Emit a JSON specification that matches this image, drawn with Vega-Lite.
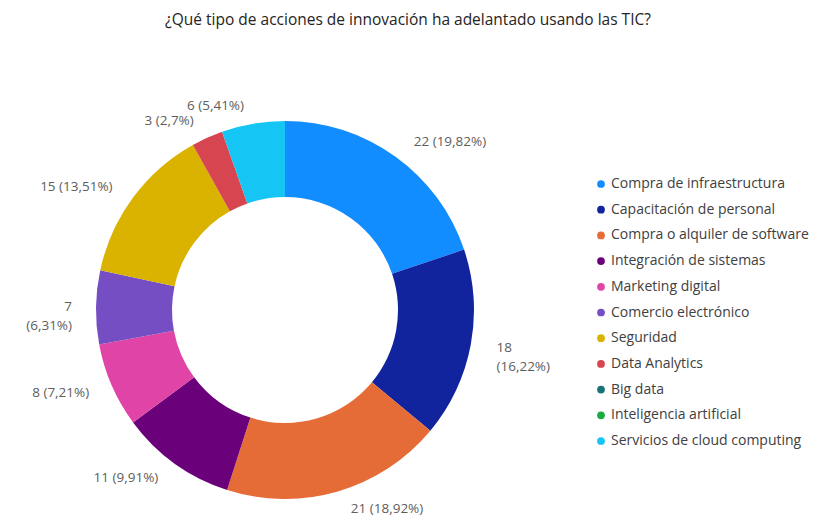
{
  "$schema": "https://vega.github.io/schema/vega-lite/v6.json",
  "autosize": "none",
  "width": 570,
  "height": 420,
  "padding": {"left": 0, "top": 100, "right": 247, "bottom": 1},
  "background": "white",
  "title": {
    "text": "¿Qué tipo de acciones de innovación ha adelantado usando las TIC?",
    "font": "Open Sans",
    "fontSize": 15.5,
    "fontWeight": "normal",
    "color": "#252423",
    "anchor": "middle",
    "dx": 123,
    "offset": 70
  },
  "config": {"view": {"stroke": null}},
  "data": {
    "values": [
      {"orden": 1, "categoria": "Compra de infraestructura", "valor": 22, "etiqueta": "22 (19,82%)"},
      {"orden": 2, "categoria": "Capacitación de personal", "valor": 18, "etiqueta": "18\n(16,22%)"},
      {"orden": 3, "categoria": "Compra o alquiler de software", "valor": 21, "etiqueta": "21 (18,92%)"},
      {"orden": 4, "categoria": "Integración de sistemas", "valor": 11, "etiqueta": "11 (9,91%)"},
      {"orden": 5, "categoria": "Marketing digital", "valor": 8, "etiqueta": "8 (7,21%)"},
      {"orden": 6, "categoria": "Comercio electrónico", "valor": 7, "etiqueta": "7\n(6,31%)"},
      {"orden": 7, "categoria": "Seguridad", "valor": 15, "etiqueta": "15 (13,51%)"},
      {"orden": 8, "categoria": "Data Analytics", "valor": 3, "etiqueta": "3 (2,7%)"},
      {"orden": 9, "categoria": "Big data", "valor": 0, "etiqueta": ""},
      {"orden": 10, "categoria": "Inteligencia artificial", "valor": 0, "etiqueta": ""},
      {"orden": 11, "categoria": "Servicios de cloud computing", "valor": 6, "etiqueta": "6 (5,41%)"}
    ]
  },
  "encoding": {
    "theta": {"field": "valor", "type": "quantitative", "stack": true},
    "order": {"field": "orden", "type": "quantitative"}
  },
  "layer": [
    {
      "mark": {"type": "arc", "innerRadius": 113, "outerRadius": 189},
      "encoding": {
        "color": {
          "field": "categoria",
          "type": "nominal",
          "sort": null,
          "scale": {
            "domain": ["Compra de infraestructura", "Capacitación de personal", "Compra o alquiler de software", "Integración de sistemas", "Marketing digital", "Comercio electrónico", "Seguridad", "Data Analytics", "Big data", "Inteligencia artificial", "Servicios de cloud computing"],
            "range": ["#118DFF", "#12239E", "#E66C37", "#6B007B", "#E044A7", "#744EC2", "#D9B300", "#D64550", "#197278", "#1AAB40", "#15C6F4"]
          },
          "legend": {
            "title": null,
            "orient": "none",
            "legendX": 594,
            "legendY": 77,
            "symbolType": "circle",
            "symbolSize": 60,
            "symbolStrokeWidth": 0,
            "labelFont": "Open Sans",
            "labelFontSize": 14,
            "labelColor": "#404040",
            "labelOffset": 3,
            "labelLimit": 300,
            "rowPadding": 11.7
          }
        }
      }
    },
    {
      "mark": {"type": "text", "radius": 207, "dx": 8, "align": "left", "baseline": "middle", "font": "Open Sans", "fontSize": 13.5, "lineBreak": "\n", "lineHeight": 19, "color": "#605E5C"},
      "encoding": {
        "text": {
          "condition": {"test": "datum.orden <= 3", "field": "etiqueta"},
          "value": ""
        }
      }
    },
    {
      "mark": {"type": "text", "radius": 207, "dx": -6, "align": "right", "baseline": "middle", "font": "Open Sans", "fontSize": 13.5, "lineBreak": "\n", "lineHeight": 19, "color": "#605E5C"},
      "encoding": {
        "text": {
          "condition": {"test": "datum.orden > 3", "field": "etiqueta"},
          "value": ""
        }
      }
    }
  ]
}
